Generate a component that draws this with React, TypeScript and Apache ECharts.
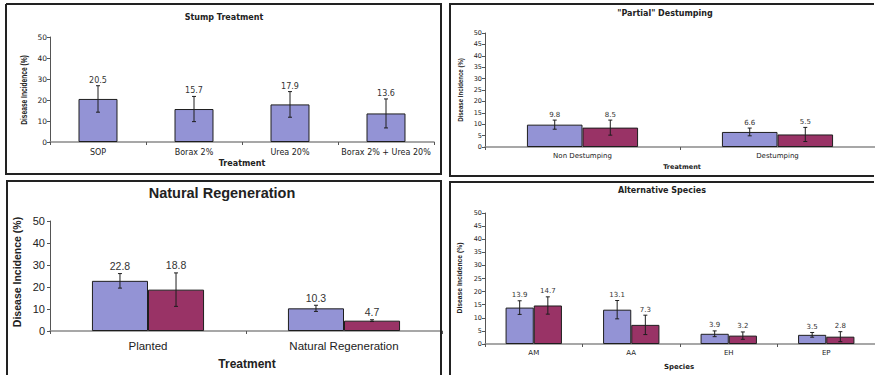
import React, { useEffect, useRef } from "react";
import * as echarts from "echarts";

// ---- Data ----
const stumpCategories = ["SOP", "Borax 2%", "Urea 20%", "Borax 2% + Urea 20%"];
const stumpValues = [20.5, 15.7, 17.9, 13.6];
const stumpErrors = [6.3, 6.0, 6.1, 6.9];

const destumpCategories = ["Non Destumping", "Destumping"];
const destumpValuesA = [9.8, 6.6];
const destumpErrorsA = [2.0, 1.7];
const destumpValuesB = [8.5, 5.5];
const destumpErrorsB = [3.3, 3.1];

const regenCategories = ["Planted", "Natural Regeneration"];
const regenValuesA = [22.8, 10.3];
const regenErrorsA = [3.3, 1.4];
const regenValuesB = [18.8, 4.7];
const regenErrorsB = [7.6, 0.4];

const speciesCategories = ["AM", "AA", "EH", "EP"];
const speciesValuesA = [13.9, 13.1, 3.9, 3.5];
const speciesErrorsA = [2.6, 3.5, 1.1, 0.9];
const speciesValuesB = [14.7, 7.3, 3.2, 2.8];
const speciesErrorsB = [3.3, 3.7, 1.4, 1.9];

const stumpTicks = { min: 0, max: 50, interval: 10 };
const destumpTicks = { min: 0, max: 50, interval: 5 };
const regenTicks = { min: 0, max: 50, interval: 10 };
const speciesTicks = { min: 0, max: 50, interval: 5 };

// ---- Styles ----
const BLUE = "#9393d5";
const PURPLE = "#993366";
const EDGE = "#1e1e1e";
const AXIS = "#8a8a8a";
const TXT = "#222";
const FS = "DejaVu Sans";
const FA = "Liberation Sans";

function errRender(offsetFrac: number, cap: number, fontSize: number, fontFamily: string, gap: number) {
  return (params: any, api: any) => {
    const i = api.value(0);
    const v = api.value(1);
    const e = api.value(2);
    const band = api.size([1, 0])[0];
    const base = api.coord([i, v]);
    const cx = base[0] + offsetFrac * band;
    const top = api.coord([i, v + e])[1];
    const bot = api.coord([i, Math.max(v - e, 0)])[1];
    const ls = { stroke: EDGE, lineWidth: 1 };
    return {
      type: "group",
      children: [
        { type: "line", shape: { x1: cx, y1: top, x2: cx, y2: bot }, style: ls },
        { type: "line", shape: { x1: cx - cap, y1: top, x2: cx + cap, y2: top }, style: ls },
        { type: "line", shape: { x1: cx - cap, y1: bot, x2: cx + cap, y2: bot }, style: ls },
        {
          type: "text",
          x: cx,
          y: top - gap,
          style: {
            text: v.toFixed(1),
            align: "center",
            verticalAlign: "bottom",
            fontSize,
            fontFamily,
            fill: "#333",
          },
        },
      ],
    };
  };
}

function xAxisDef(gridIndex: number, data: string[], fontSize: number, fontFamily: string, margin: number) {
  return {
    type: "category",
    gridIndex,
    data,
    axisLine: { show: true, lineStyle: { color: AXIS, width: 1.5 } },
    axisTick: { show: true, length: 3, lineStyle: { color: "#555" } },
    axisLabel: { interval: 0, fontSize, fontFamily, color: TXT, margin },
    splitLine: { show: false },
  };
}

function yAxisDef(gridIndex: number, ticks: any, fontSize: number, fontFamily: string, margin: number) {
  return {
    type: "value",
    gridIndex,
    min: ticks.min,
    max: ticks.max,
    interval: ticks.interval,
    axisLine: { show: true, lineStyle: { color: "#555", width: 1 } },
    axisTick: { show: true, length: 3, lineStyle: { color: "#555" } },
    axisLabel: { fontSize, fontFamily, color: TXT, margin },
    splitLine: { show: false },
  };
}

function barSeries(axisIndex: number, data: number[], color: string, barWidth: string) {
  return {
    type: "bar",
    xAxisIndex: axisIndex,
    yAxisIndex: axisIndex,
    data,
    barWidth,
    barGap: "0%",
    itemStyle: { color, borderColor: EDGE, borderWidth: 1 },
    silent: true,
  };
}

function errSeries(axisIndex: number, values: number[], errors: number[], render: any) {
  return {
    type: "custom",
    xAxisIndex: axisIndex,
    yAxisIndex: axisIndex,
    data: values.map((v, i) => [i, v, errors[i]]),
    renderItem: render,
    silent: true,
    z: 5,
  };
}

function txt(
  x: number,
  y: number,
  text: string,
  fontSize: number,
  fontFamily: string,
  bold: boolean,
  rotation = 0,
  scaleX = 1
) {
  return {
    type: "text",
    x,
    y,
    rotation,
    scaleX,
    style: {
      text,
      fontSize,
      fontFamily,
      fontWeight: bold ? "bold" : "normal",
      fill: TXT,
      align: "center",
      verticalAlign: "middle",
    },
    z: 10,
  };
}

function edge(points: number[][]) {
  return {
    type: "polyline",
    shape: { points },
    style: { fill: "none", stroke: "#222", lineWidth: 2 },
    z: 20,
  };
}

export default function App() {
  const ref = useRef<HTMLDivElement>(null);
  useEffect(() => {
    if (!ref.current) return;
    const chart = echarts.init(ref.current, null, { renderer: "svg" });
    chart.setOption({
      animation: false,
      backgroundColor: "#fff",
      grid: [
        { left: 50, top: 37, width: 384, height: 105 },
        { left: 485, top: 33, width: 397, height: 114 },
        { left: 50, top: 221, width: 392, height: 110 },
        { left: 485, top: 213, width: 392, height: 131 },
      ],
      xAxis: [
        xAxisDef(0, stumpCategories, 8, FS, 6),
        xAxisDef(1, destumpCategories, 7, FS, 5),
        xAxisDef(2, regenCategories, 11.5, FA, 9),
        xAxisDef(3, speciesCategories, 7, FS, 5),
      ],
      yAxis: [
        yAxisDef(0, stumpTicks, 7.5, FS, 3),
        yAxisDef(1, destumpTicks, 6.5, FS, 3),
        yAxisDef(2, regenTicks, 11, FA, 5),
        yAxisDef(3, speciesTicks, 6.5, FS, 3),
      ],
      series: [
        barSeries(0, stumpValues, BLUE, "40.6%"),
        errSeries(0, stumpValues, stumpErrors, errRender(0, 2, 8, FS, 1.5)),

        barSeries(1, destumpValuesA, BLUE, "28.5%"),
        barSeries(1, destumpValuesB, PURPLE, "28.5%"),
        errSeries(1, destumpValuesA, destumpErrorsA, errRender(-0.1425, 2, 7, FS, 1.5)),
        errSeries(1, destumpValuesB, destumpErrorsB, errRender(0.1425, 2, 7, FS, 1.5)),

        barSeries(2, regenValuesA, BLUE, "28.6%"),
        barSeries(2, regenValuesB, PURPLE, "28.6%"),
        errSeries(2, regenValuesA, regenErrorsA, errRender(-0.143, 2, 10.5, FA, 2)),
        errSeries(2, regenValuesB, regenErrorsB, errRender(0.143, 2, 10.5, FA, 2)),

        barSeries(3, speciesValuesA, BLUE, "28.9%"),
        barSeries(3, speciesValuesB, PURPLE, "28.9%"),
        errSeries(3, speciesValuesA, speciesErrorsA, errRender(-0.1445, 2, 7, FS, 2)),
        errSeries(3, speciesValuesB, speciesErrorsB, errRender(0.1445, 2, 7, FS, 2)),
      ],
      graphic: [
        edge([[6, 4], [441, 4], [441, 174], [6, 174], [6, 4]]),
        edge([[874, 4], [450, 4], [450, 176], [874, 176]]),
        edge([[7, 375], [7, 181], [441, 181], [441, 375]]),
        edge([[874, 182], [450, 182], [450, 375]]),

        txt(224, 17, "Stump Treatment", 8, FS, true),
        txt(242, 163, "Treatment", 8, FS, true),
        txt(24, 90, "Disease Incidence (%)", 8.5, FA, true, Math.PI / 2, 0.78),

        txt(665, 13, "\"Partial\" Destumping", 8, FS, true),
        txt(682, 167, "Treatment", 6.5, FS, true),
        txt(460, 90, "Disease Incidence (%)", 7.5, FA, true, Math.PI / 2, 0.81),

        txt(222, 193, "Natural Regeneration", 14.5, FA, true),
        txt(247, 364, "Treatment", 12, FA, true),
        txt(16.5, 272, "Disease Incidence (%)", 10.5, FA, true, Math.PI / 2),

        txt(662, 190, "Alternative Species", 8, FS, true),
        txt(679, 367, "Species", 7, FS, true),
        txt(460, 278, "Disease Incidence (%)", 7.5, FA, true, Math.PI / 2, 0.9),
      ],
    });
    return () => chart.dispose();
  }, []);
  return (
    <div
      ref={ref}
      style={{ position: "fixed", left: 0, top: 0, width: 875, height: 375, background: "#fff" }}
    />
  );
}
